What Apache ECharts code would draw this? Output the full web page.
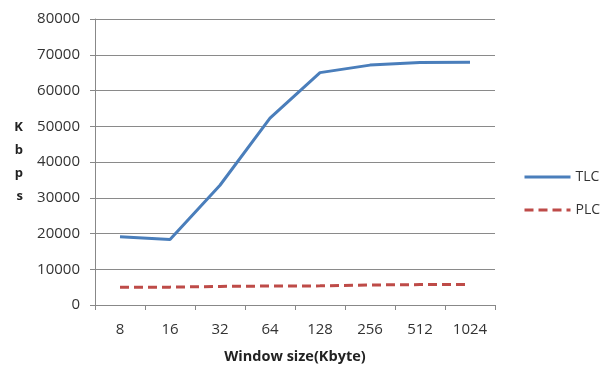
<!DOCTYPE html>
<html>
<head>
<meta charset="utf-8">
<script src="https://cdn.jsdelivr.net/npm/echarts@6/dist/echarts.min.js"></script>
<style>html,body{margin:0;padding:0;background:#fff}#c{width:605px;height:366px}</style>
</head>
<body>
<div id="c"></div>
<script>
const windowSizes = ['8', '16', '32', '64', '128', '256', '512', '1024'];
const tlcKbps = [19100, 18300, 33500, 52300, 65000, 67100, 67800, 67900];
const plcKbps = [4950, 5000, 5200, 5300, 5350, 5600, 5700, 5700];
const yTicks = { min: 0, max: 80000, interval: 10000 };

const font = 'Open Sans, Liberation Sans, sans-serif';
const chart = echarts.init(document.getElementById('c'));
chart.setOption({
  animation: false,
  backgroundColor: '#fff',
  grid: { left: 95, right: 110, top: 19, bottom: 61, containLabel: false, outerBoundsMode: 'none' },
  legend: {
    orient: 'vertical',
    left: 523,
    top: 170,
    padding: 0,
    itemGap: 19,
    itemWidth: 46,
    itemHeight: 15,
    itemStyle: { opacity: 0 },
    lineStyle: { width: 3 },
    textStyle: { fontFamily: font, fontSize: 14, color: '#333' },
    data: ['TLC', 'PLC']
  },
  xAxis: {
    type: 'category',
    data: windowSizes,
    boundaryGap: true,
    name: 'Window size(Kbyte)',
    nameLocation: 'middle',
    nameGap: 44,
    nameTextStyle: { fontFamily: font, fontSize: 14.5, fontWeight: 'bold', color: '#222' },
    axisLine: { lineStyle: { color: '#888', width: 1 } },
    axisTick: { show: true, length: 5, lineStyle: { color: '#888' } },
    axisLabel: { fontFamily: font, fontSize: 15, color: '#333', margin: 17 }
  },
  yAxis: {
    type: 'value',
    min: yTicks.min,
    max: yTicks.max,
    interval: yTicks.interval,
    name: 'K\nb\np\ns',
    nameLocation: 'middle',
    nameRotate: 0,
    nameGap: 72,
    nameTextStyle: { fontFamily: font, fontSize: 13, fontWeight: 'bold', color: '#222', lineHeight: 23 },
    axisLine: { show: true, lineStyle: { color: '#888', width: 1 } },
    axisTick: { show: true, length: 5, lineStyle: { color: '#888' } },
    splitLine: { lineStyle: { color: '#8a8a8a', width: 1 } },
    axisLabel: { fontFamily: font, fontSize: 15, color: '#333', margin: 15, formatter: v => String(v) }
  },
  series: [
    {
      name: 'TLC',
      type: 'line',
      data: tlcKbps,
      symbol: 'none',
      lineStyle: { color: '#4a7ebb', width: 3 },
      itemStyle: { color: '#4a7ebb' }
    },
    {
      name: 'PLC',
      type: 'line',
      data: plcKbps,
      symbol: 'none',
      lineStyle: { color: '#be4b48', width: 3, type: [9, 5] },
      itemStyle: { color: '#be4b48' }
    }
  ]
});
</script>
</body>
</html>
